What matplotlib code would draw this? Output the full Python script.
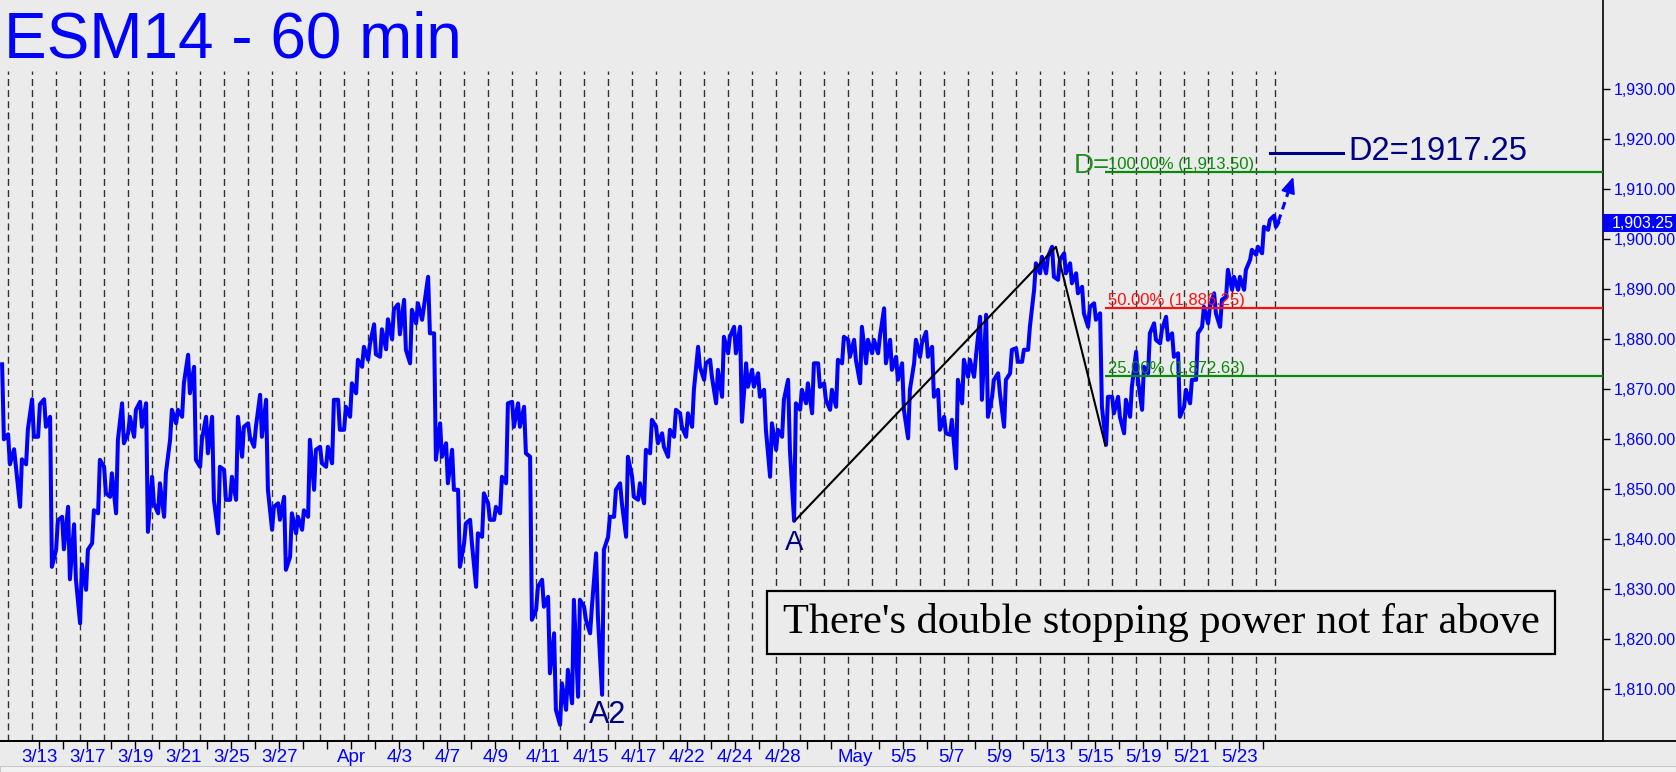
import numpy as np
import matplotlib.pyplot as plt
import matplotlib.transforms as mtransforms
from matplotlib.lines import Line2D
from matplotlib.patches import Rectangle

plt.rcParams['font.family'] = ['Liberation Sans', 'DejaVu Sans']

# ---- datos: maximos / minimos por bloque de 1/4 de sesion (ESM14, 60 min) ----
bar_high = [
    1875.0, 1861.0, 1858.0, 1856.0, 1862.0, 1868.0, 1867.0, 1868.0, 1864.5, 1843.8,
    1844.5, 1846.5, 1843.0, 1835.0, 1837.9, 1845.8, 1855.9, 1854.5, 1853.2, 1859.9,
    1867.2, 1864.5, 1865.9, 1867.5, 1867.2, 1852.5, 1851.2, 1853.2, 1865.9, 1865.9,
    1871.2, 1876.9, 1874.5, 1859.9, 1864.5, 1864.5, 1854.5, 1853.9, 1852.5, 1864.5,
    1862.5, 1863.2, 1862.5, 1868.9, 1867.9, 1846.5, 1847.2, 1848.5, 1845.2, 1844.5,
    1845.8, 1859.9, 1857.9, 1858.5, 1858.5, 1867.9, 1867.9, 1866.5, 1871.2, 1875.9,
    1878.5, 1879.0, 1883.0, 1882.0, 1884.0, 1886.0, 1887.0, 1887.9, 1885.9, 1887.2,
    1886.5, 1892.5, 1881.2, 1863.2, 1859.2, 1857.9, 1849.9, 1843.2, 1843.9, 1841.2,
    1849.2, 1847.2, 1846.5, 1852.5, 1867.2, 1867.5, 1867.2, 1866.5, 1856.5, 1830.5,
    1831.9, 1828.5, 1821.2, 1811.2, 1813.9, 1827.9, 1827.9, 1826.5, 1826.5, 1837.2,
    1837.9, 1844.5, 1849.9, 1851.2, 1856.5, 1852.5, 1851.2, 1857.9, 1863.9, 1862.5,
    1861.2, 1861.9, 1865.9, 1865.2, 1865.2, 1869.9, 1878.5, 1875.2, 1875.9, 1873.9,
    1880.5, 1880.5, 1882.5, 1882.5, 1875.2, 1873.9, 1873.2, 1869.9, 1863.2, 1861.9,
    1867.9, 1871.9, 1867.2, 1869.9, 1871.2, 1875.2, 1875.2, 1871.2, 1869.9, 1875.9,
    1880.5, 1879.9, 1879.9, 1882.5, 1879.9, 1879.9, 1880.5, 1886.2, 1879.9, 1876.5,
    1875.2, 1869.9, 1879.9, 1879.2, 1881.5, 1878.5, 1869.9, 1864.5, 1863.9, 1871.9,
    1875.9, 1875.9, 1876.5, 1884.5, 1884.9, 1871.9, 1873.2, 1871.9, 1877.9, 1878.2,
    1877.9, 1882.5, 1895.2, 1896.5, 1896.5, 1898.5, 1895.9, 1897.2, 1895.2, 1893.2,
    1890.5, 1886.5, 1887.2, 1885.2, 1868.5, 1868.5, 1868.5, 1867.9, 1870.5, 1877.5,
    1874.5, 1881.2, 1883.2, 1881.9, 1884.5, 1881.2, 1877.2, 1869.9, 1871.9, 1881.2,
    1886.5, 1886.5, 1889.2, 1887.9, 1893.9, 1892.5, 1892.5, 1893.9, 1897.9, 1898.5,
    1902.5, 1903.9, 1904.7,
]
bar_low = [
    1860.0, 1855.0, 1854.5, 1846.5, 1855.0, 1860.5, 1860.5, 1862.5, 1834.5, 1837.9,
    1838.0, 1832.0, 1832.0, 1823.2, 1829.9, 1839.2, 1845.2, 1849.2, 1848.5, 1845.2,
    1859.2, 1861.2, 1860.5, 1862.5, 1841.5, 1847.2, 1845.2, 1844.5, 1859.9, 1863.2,
    1864.5, 1869.2, 1855.9, 1854.5, 1857.2, 1847.9, 1841.2, 1847.9, 1847.9, 1847.9,
    1856.5, 1860.5, 1858.5, 1860.5, 1849.9, 1841.9, 1843.9, 1833.9, 1836.5, 1841.2,
    1841.9, 1844.5, 1849.9, 1855.2, 1854.5, 1855.2, 1861.9, 1861.9, 1864.5, 1869.2,
    1874.5, 1875.9, 1877.0, 1876.5, 1878.0, 1880.0, 1881.0, 1877.9, 1875.2, 1883.2,
    1883.9, 1881.2, 1855.9, 1856.5, 1851.2, 1849.9, 1834.5, 1839.2, 1839.2, 1830.5,
    1840.5, 1843.9, 1843.9, 1845.2, 1851.2, 1862.5, 1862.5, 1857.2, 1823.9, 1825.9,
    1826.5, 1813.2, 1805.9, 1802.9, 1805.9, 1807.2, 1808.5, 1823.9, 1821.2, 1824.5,
    1808.9, 1840.5, 1844.5, 1847.2, 1840.5, 1848.5, 1847.9, 1847.2, 1857.2, 1859.2,
    1858.5, 1856.5, 1860.5, 1862.5, 1860.5, 1862.5, 1874.5, 1871.9, 1872.5, 1867.2,
    1868.5, 1877.2, 1877.2, 1863.5, 1870.5, 1870.5, 1868.5, 1861.9, 1852.5, 1857.9,
    1860.5, 1857.9, 1843.7, 1865.9, 1867.2, 1865.2, 1870.5, 1867.9, 1865.9, 1866.5,
    1875.2, 1876.5, 1875.9, 1871.2, 1875.2, 1877.2, 1877.2, 1875.2, 1873.9, 1871.9,
    1865.9, 1860.2, 1875.2, 1876.5, 1876.5, 1868.5, 1861.9, 1861.2, 1860.9, 1854.2,
    1867.2, 1872.5, 1872.5, 1867.9, 1864.5, 1868.5, 1869.2, 1862.5, 1873.2, 1875.5,
    1875.5, 1877.9, 1889.9, 1893.2, 1893.2, 1892.5, 1891.9, 1893.2, 1891.2, 1889.2,
    1885.2, 1882.5, 1883.9, 1866.5, 1858.9, 1865.2, 1864.5, 1861.2, 1864.5, 1871.9,
    1865.9, 1873.2, 1879.9, 1879.2, 1879.9, 1876.5, 1864.5, 1866.5, 1867.2, 1871.9,
    1882.5, 1883.2, 1885.2, 1882.5, 1888.5, 1889.9, 1889.9, 1889.9, 1895.9, 1896.9,
    1897.2, 1901.9, 1902.5,
]
first_bar_day = -1.6375   # sesion (0 = 3/13)
bar_days = 0.25
last_price = 1903.25

date_labels = ['3/13', '3/17', '3/19', '3/21', '3/25', '3/27', 'Apr', '4/3', '4/7',
               '4/9', '4/11', '4/15', '4/17', '4/22', '4/24', '4/28', 'May', '5/5',
               '5/7', '5/9', '5/13', '5/15', '5/19', '5/21', '5/23']
date_days = [0, 2, 4, 6, 8, 10, 13, 15, 17, 19, 21, 23, 25, 27, 29, 31, 34, 36,
             38, 40, 42, 44, 46, 48, 50]
price_ticks = list(range(1810, 1931, 10))

# patron A-B-C y proyecciones
abc_day = [31.49, 42.36, 44.42]
abc_price = [1843.75, 1898.50, 1858.75]
fib_levels = [1913.50, 1886.25, 1872.63]
fib_pct = ['100.00%', '50.00%', '25.00%']
fib_colors = ['#0A8A0A', '#FF1010', '#0A8A0A']
d2_price = 1917.25

# ---- figura ----
W, H = 1676, 772
bg = '#EBEBEB'
fig = plt.figure(figsize=(W / 100, H / 100), dpi=100, facecolor=bg)
ax = fig.add_axes([0, 31 / H, 1603 / W, 741 / H], facecolor=bg)
xmin, xmax = -1.6375, 65.154
ymin, ymax = 1799.66, 1947.86
ax.set_xlim(xmin, xmax)
ax.set_ylim(ymin, ymax)

# separadores de sesion
breaks = [k - 1.2917 for k in range(53)] + [51.5]
ax.vlines(breaks, ymin, 1933.7, colors='#303030', linewidth=1,
          linestyles=[(0, (5, 3))], zorder=1)

# linea de precio (trazos verticales maximo/minimo de cada bloque)
hi = np.array(bar_high)
lo = np.array(bar_low)
mid = (hi + lo) / 2
nxt = np.append(mid[1:], last_price)
up = nxt >= mid
t0 = first_bar_day + np.arange(len(hi)) * bar_days
xs = np.column_stack([t0 + 0.35 * bar_days, t0 + 0.65 * bar_days]).ravel()
ys = np.column_stack([np.where(up, lo, hi), np.where(up, hi, lo)]).ravel()
xs = np.append(xs, t0[-1] + bar_days)
ys = np.append(ys, last_price)
ax.plot(xs, ys, color='#0000FF', lw=2.9, zorder=3)

# A-B-C
ax.plot(abc_day, abc_price, color='black', lw=1.5, zorder=4)

# niveles
for lvl, pct, col in zip(fib_levels, fib_pct, fib_colors):
    ax.hlines(lvl, abc_day[2], xmax, colors=col, lw=1.6, zorder=4)
    ax.text(abc_day[2] + 0.1, lvl + 0.6, f'{pct} ({lvl:,.2f})', color=col,
            fontsize=12, va='baseline', ha='left', zorder=5)
ax.text(43.11, 1913.2, 'D=', color='#1E8C1E', fontsize=20, va='baseline', zorder=5)

ax.plot([51.26, 54.34], [d2_price, d2_price], color='#000080', lw=2.2, zorder=5)
ax.text(54.55, d2_price - 1.4, f'D2={d2_price}', color='#000080', fontsize=23.5,
        va='baseline', ha='left', zorder=5)

# flecha discontinua
ax.plot([51.625, 52.05], [1903.5, 1909.6], color='#0000FF', lw=2.2,
        linestyle=(0, (2.5, 1.8)), zorder=5)
ax.annotate('', xy=(52.25, 1912.5), xytext=(52.05, 1909.6),
            arrowprops=dict(arrowstyle='-|>,head_length=0.65,head_width=0.28',
                            color='#0000FF', lw=1.5, mutation_scale=15,
                            shrinkA=0, shrinkB=0), zorder=5)

ax.text(31.45, 1837.86, 'A', color='#000080', fontsize=20, ha='center', va='baseline')
ax.text(23.68, 1803.2, 'A2', color='#000080', fontsize=22, ha='center', va='baseline')

# cuadro de comentario
ax.add_patch(Rectangle((30.32, 1817.06), 32.83, 12.6, facecolor=bg,
                       edgecolor='black', lw=1.6, zorder=6))
ax.text(46.74, 1823.4, "There's double stopping power not far above",
        family=['Liberation Serif', 'DejaVu Serif'], fontsize=30.5, color='black',
        ha='center', va='center', zorder=7)

# ejes
for s in ['top', 'left']:
    ax.spines[s].set_visible(False)
ax.spines['right'].set_linewidth(1.2)
ax.spines['bottom'].set_linewidth(1.3)
ax.yaxis.tick_right()
ax.set_yticks(price_ticks)
ax.set_yticklabels([f'{v:,.2f}' for v in price_ticks])
ax.tick_params(axis='y', direction='out', length=5, width=1, pad=3,
               colors='black', labelcolor='#0000FF', labelsize=11.5)
ax.set_xticks(date_days)
ax.set_xticklabels(date_labels, family=['Liberation Sans Narrow', 'Liberation Sans'])
ax.set_xticks(range(0, 52), minor=True)
ax.tick_params(axis='x', which='both', direction='out', length=6, width=1, pad=0,
               colors='black', labelcolor='#0000FF', labelsize=13.5)

fig.add_artist(Line2D([0, 1], [31 / H, 31 / H], transform=fig.transFigure,
                      color='black', lw=1.3))
fig.add_artist(Rectangle((0, 0), 1, 6 / H, transform=fig.transFigure,
                         facecolor='#F2F2F2', edgecolor='#C8C8C8', lw=0.8))

# ultimo precio
trans = mtransforms.blended_transform_factory(ax.transAxes, ax.transData)
ax.add_patch(Rectangle((1.0, last_price - 1.8), 73 / 1603, 3.6, transform=trans,
                       facecolor='#0000FF', edgecolor='none', clip_on=False, zorder=8))
ax.text(1 + 9 / 1603, last_price, f'{last_price:,.2f}', transform=trans,
        color='white', fontsize=11.5, va='center', ha='left', zorder=9, clip_on=False)

fig.text(3.6 / W, 1 - 57.3 / H, 'ESM14 - 60 min', fontsize=46, color='#0000FF',
         va='baseline', ha='left')

fig.savefig('out.png', dpi=100, facecolor=bg)
